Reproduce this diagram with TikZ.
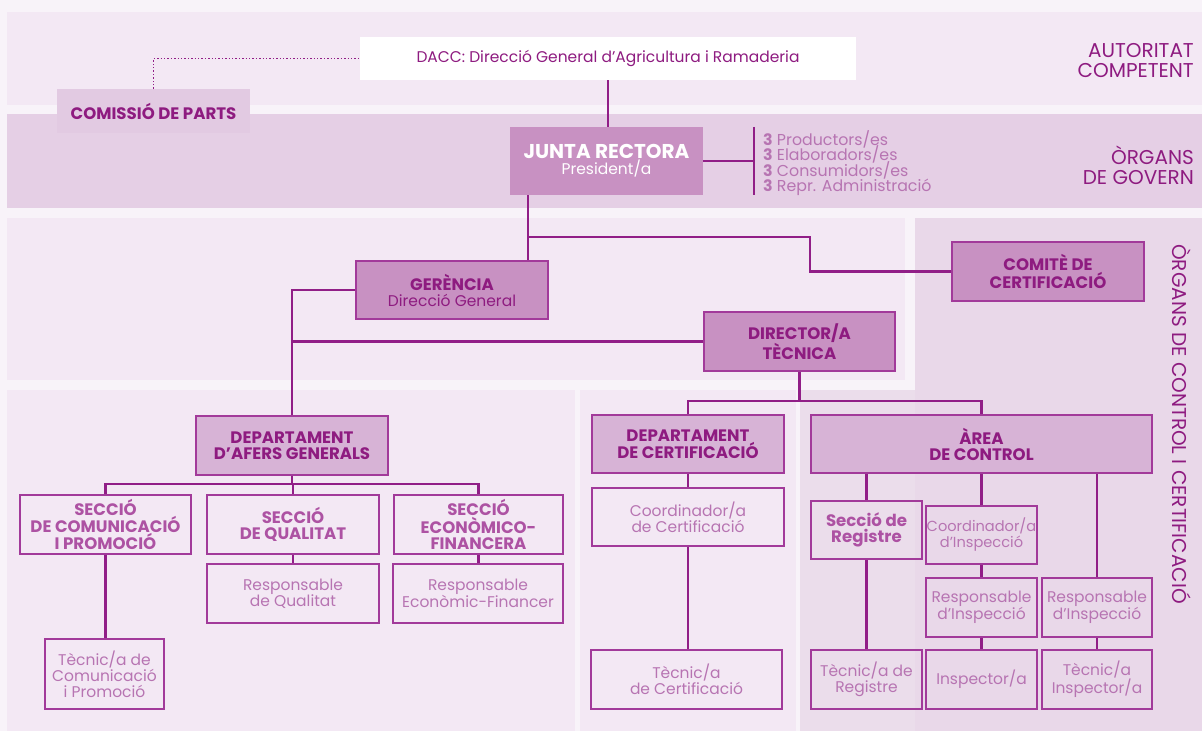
\documentclass[tikz,border=0pt]{standalone}
\usepackage{fontspec}
\setmainfont{Poppins}
\newcommand\tightls{\lineskiplimit-100pt\relax}
\definecolor{pagebg}{HTML}{F8F3F9}
\definecolor{bandA}{HTML}{F3E8F4}
\definecolor{bandB}{HTML}{E5CFE5}
\definecolor{bandR}{HTML}{E9D8E9}
\definecolor{bandR2}{HTML}{EBDDEB}
\definecolor{darkfill}{HTML}{C891C2}
\definecolor{midfill}{HTML}{D7B3D6}
\definecolor{comisfill}{HTML}{E2CAE2}
\definecolor{linec}{HTML}{911E87}
\definecolor{bordc}{HTML}{A23A9A}
\definecolor{txtdark}{HTML}{8E1B80}
\definecolor{txtmid}{HTML}{AD52A3}
\definecolor{txtlight}{HTML}{B774B2}
\newcommand\hdfont{\fontsize{16.6}{16.5}\selectfont\bfseries}
\tikzset{
  base/.style={inner sep=0pt, align=center, font={\fontsize{15.5}{16}\selectfont}},
  darkbox/.style={base, draw=bordc, line width=2pt, fill=darkfill, text=txtdark},
  midbox/.style={base, draw=bordc, line width=2pt, fill=midfill, text=txtdark},
  openbox/.style={base, draw=bordc, line width=2pt, text=txtlight},
  secbox/.style={openbox, text=txtmid},
  conn/.style={draw=linec, line width=2.3pt},
  sidelabel/.style={inner sep=0pt, align=right, text=txtdark, font={\fontsize{20}{20}\selectfont}}
}
\begin{document}
\begin{tikzpicture}[x=1pt,y=-1pt]
\fill[pagebg] (0,0) rectangle (1202,731);
\useasboundingbox (0,0) rectangle (1202,731);
% background bands
\fill[bandA] (7,12) rectangle (1202,105);
\fill[bandB] (7,114) rectangle (1202,208);
\fill[bandA] (7,218) rectangle (905,380);
\fill[bandR] (915,218) rectangle (1202,731);
\fill[bandA] (7,390) rectangle (575,731);
\fill[bandA] (580,390) rectangle (796,731);
\fill[bandR2] (800,390) rectangle (915,731);

% side labels
\node[sidelabel, anchor=east] (lab1) at (1194,61) {AUTORITAT\\COMPETENT};
\node[sidelabel, anchor=east] (lab2) at (1194,165) {ÒRGANS\\DE GOVERN};
\node[inner sep=0pt, text=txtdark, font={\fontsize{20}{20}\selectfont}, rotate=-90] (lab3) at (1182,424) {ÒRGANS DE CONTROL I CERTIFICACIÓ};

% top
\node[base, fill=white, text=txtdark, minimum width=496pt, minimum height=43pt] (dacc) at (608,58.5) {DACC: Direcció General d’Agricultura i Ramaderia};
\node[base, fill=comisfill, text=txtdark, minimum width=193pt, minimum height=44pt] (comis) at (153.5,111) {\hdfont COMISSIÓ DE PARTS};
\node[base, fill=darkfill, text=white, minimum width=193pt, minimum height=68pt] (junta) at (606.5,161) {{\fontsize{20}{18}\selectfont\bfseries JUNTA RECTORA}\\President/a};
\node[inner sep=0pt, anchor=west, align=left, text=txtlight, font={\fontsize{15.8}{15.5}\selectfont\tightls}] (list) at (763,163)
  {\textbf{3} Productors/es\\\textbf{3} Elaboradors/es\\\textbf{3} Consumidors/es\\\textbf{3} Repr. Administració};

% middle
\node[darkbox, minimum width=192pt, minimum height=58pt] (gerencia) at (452,290) {{\hdfont GERÈNCIA}\\Direcció General};
\node[darkbox, minimum width=191pt, minimum height=59pt] (director) at (799.5,341.5) {\hdfont DIRECTOR/A\\\hdfont TÈCNICA};
\node[darkbox, minimum width=192pt, minimum height=59pt] (comite) at (1048,271.5) {\hdfont COMITÈ DE\\\hdfont CERTIFICACIÓ};

% afers generals
\node[midbox, minimum width=192pt, minimum height=59pt] (dag) at (292,445.5) {\hdfont DEPARTAMENT\\\hdfont D’AFERS GENERALS};
\node[secbox, minimum width=171pt, minimum height=59pt] (sec1) at (105.5,524.5) {\hdfont SECCIÓ\\\hdfont DE COMUNICACIÓ\\\hdfont I PROMOCIÓ};
\node[secbox, minimum width=172pt, minimum height=59pt] (sec2) at (293,524.5) {\hdfont SECCIÓ\\\hdfont DE QUALITAT};
\node[secbox, minimum width=169pt, minimum height=59pt] (sec3) at (478.5,524.5) {\hdfont SECCIÓ\\\hdfont ECONÒMICO-\\\hdfont FINANCERA};
\node[openbox, minimum width=172pt, minimum height=59pt] (resq) at (293,593.5) {Responsable\\de Qualitat};
\node[openbox, minimum width=170pt, minimum height=59pt] (rese) at (478,593.5) {Responsable\\Econòmic-Financer};
\node[openbox, minimum width=119pt, minimum height=70pt] (tecc) at (104.5,674) {Tècnic/a de\\Comunicació\\i Promoció};

% certificacio
\node[midbox, minimum width=192pt, minimum height=58pt] (dcert) at (688,444) {\hdfont DEPARTAMENT\\\hdfont DE CERTIFICACIÓ};
\node[openbox, minimum width=192pt, minimum height=58pt] (coordc) at (688,517) {Coordinador/a\\de Certificació};
\node[openbox, minimum width=191pt, minimum height=59pt] (tecert) at (686.5,679.5) {Tècnic/a\\de Certificació};

% area de control
\node[midbox, minimum width=341pt, minimum height=58pt] (area) at (981.5,444) {\hdfont ÀREA\\\hdfont DE CONTROL};
\node[secbox, minimum width=111pt, minimum height=58pt] (secreg) at (866.5,530) {\hdfont Secció de\\\hdfont Registre};
\node[openbox, minimum width=111pt, minimum height=58pt, font={\fontsize{14.6}{16}\selectfont}] (coordi) at (981.5,535) {Coordinador/a\\d’Inspecció};
\node[openbox, minimum width=111pt, minimum height=59pt] (resp1) at (981.5,607.5) {Responsable\\d’Inspecció};
\node[openbox, minimum width=110pt, minimum height=59pt] (resp2) at (1097,607.5) {Responsable\\d’Inspecció};
\node[openbox, minimum width=111pt, minimum height=59pt] (tecreg) at (866.5,679.5) {Tècnic/a de\\Registre};
\node[openbox, minimum width=111pt, minimum height=59pt] (insp) at (981.5,679.5) {Inspector/a};
\node[openbox, minimum width=110pt, minimum height=59pt] (tecinsp) at (1097,679.5) {Tècnic/a\\Inspector/a};

% helper coordinates
\coordinate (jg) at (528,237);
\coordinate (cb) at (810,237);
\coordinate (barc) at (754,161);
\coordinate (tb) at (0,401);
\coordinate (sb) at (0,484);

% connectors
\draw[draw=linec, line width=1.4pt, dotted] (comis.north) |- (dacc.west);
\draw[conn] (dacc.south) -- (dacc.south |- junta.north);
\draw[conn] (junta.east) -- (barc);
\draw[conn] (barc |- junta.north) -- (barc |- junta.south);
\draw[conn] (jg |- junta.south) -- (jg |- gerencia.north);
\draw[conn] (jg) -- (cb) |- (comite.west);
\draw[conn] (gerencia.west) -| (dag.north);
\draw[conn] (director.west) -- (director.west -| dag.north);
\draw[conn] (director.south) -- (director.south |- tb);
\draw[conn] (dcert.north) -- (dcert.north |- tb) -- (area.north |- tb) -- (area.north);
\draw[conn] (dag.south) -- (dag.south |- sb);
\draw[conn] (sec1.north) -- (sec1.north |- sb) -- (sec3.north |- sb) -- (sec3.north);
\draw[conn] (sec2.north |- sb) -- (sec2.north);
\draw[conn] (sec1.south) -- (sec1.south |- tecc.north);
\draw[conn] (sec2.south) -- (resq.north);
\draw[conn] (sec3.south) -- (sec3.south |- rese.north);
\draw[conn] (dcert.south) -- (coordc.north);
\draw[conn] (coordc.south) -- (coordc.south |- tecert.north);
\draw[conn] (secreg.north |- area.south) -- (secreg.north);
\draw[conn] (coordi.north |- area.south) -- (coordi.north);
\draw[conn] (resp2.north |- area.south) -- (resp2.north);
\draw[conn] (secreg.south) -- (tecreg.north);
\draw[conn] (coordi.south) -- (resp1.north);
\draw[conn] (resp1.south) -- (insp.north);
\draw[conn] (resp2.south) -- (tecinsp.north);
\end{tikzpicture}
\end{document}
